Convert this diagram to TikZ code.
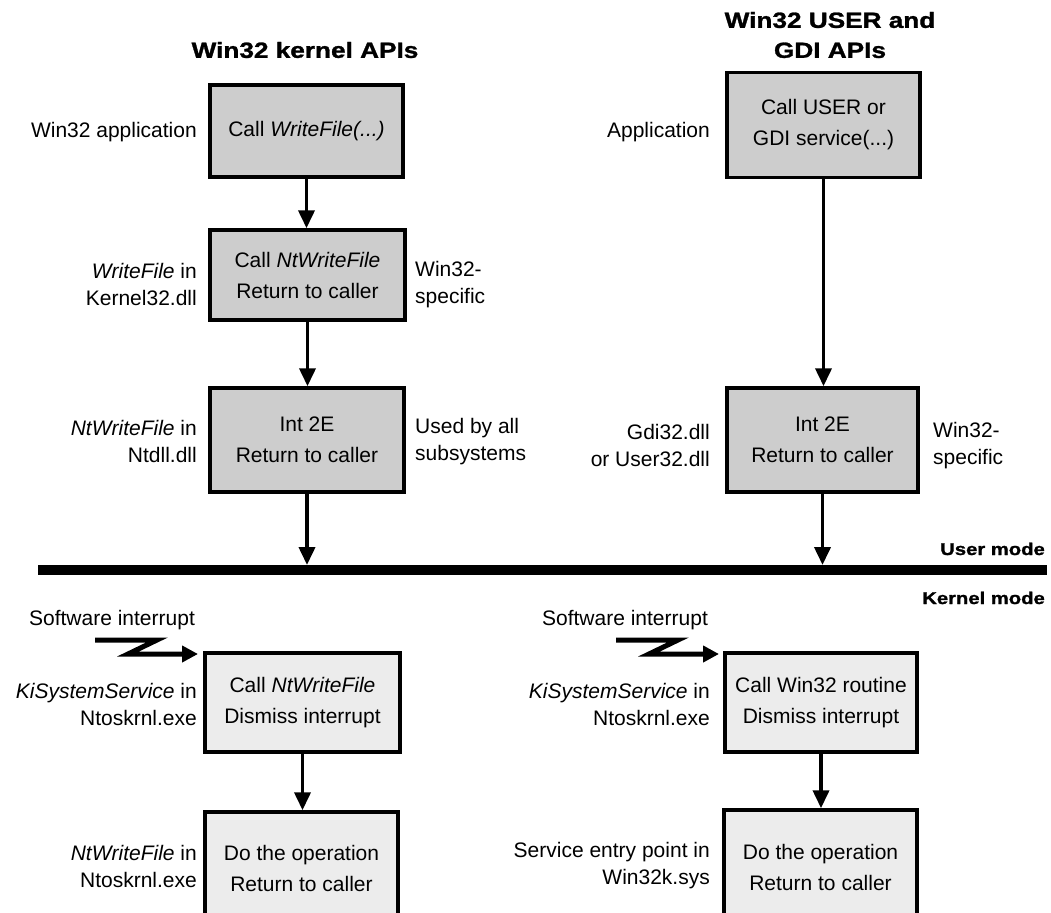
\documentclass[tikz,border=0pt]{standalone}
\usepackage{fontspec}
\setmainfont{Liberation Sans}
\newfontfamily\heavyfont{Liberation Sans}[FakeBold=1.2]
\usetikzlibrary{arrows.meta}
\definecolor{ufill}{RGB}{205,205,205}
\definecolor{kfill}{RGB}{236,236,236}
\tikzset{
  box/.style={draw=black, line width=3.5pt, align=center, inner sep=0pt,
    font=\fontsize{21}{31}\selectfont},
  ubox/.style={box, fill=ufill},
  kbox/.style={box, fill=kfill},
  lab/.style={font=\fontsize{21}{27}\selectfont, inner sep=0pt},
  labL/.style={lab, anchor=east, align=right},
  labR/.style={lab, anchor=west, align=left},
  arr/.style={line width=3.8pt, -{Triangle[width=16pt,length=18pt]}},
  zz/.style={line width=5pt, -{Triangle[width=16pt,length=16pt]}},
  ttl/.style={font=\fontsize{22}{30}\selectfont\heavyfont\bfseries, align=center, inner sep=0pt},
  mode/.style={font=\fontsize{17}{20}\selectfont\heavyfont\bfseries, anchor=base east, inner sep=0pt}
}
\begin{document}
\begin{tikzpicture}[x=1pt,y=-1pt]
\useasboundingbox (0,0) rectangle (1051,912);
\clip (0,0) rectangle (1051,912);
% titles
\node[ttl] (t1) at (305,50) {\scalebox{1.19}[1]{Win32 kernel APIs}};
\node[ttl] (t2) at (830,35) {\scalebox{1.19}[1]{Win32 USER and}\\\scalebox{1.19}[1]{GDI APIs}};
% user-mode boxes
\node[ubox, minimum width=193pt, minimum height=92pt] (b1) at (306.5,131) {Call \textit{WriteFile(...)}};
\node[ubox, minimum width=195pt, minimum height=90pt] (b2) at (307.5,275) {Call \textit{NtWriteFile}\\Return to caller};
\node[ubox, minimum width=194pt, minimum height=104pt] (b3) at (307,440) {Int 2E\\Return to caller};
\node[ubox, minimum width=193pt, minimum height=105pt] (r1) at (823.5,125) {Call USER or\\GDI service(...)};
\node[ubox, minimum width=191pt, minimum height=104pt] (r2) at (822.5,440) {Int 2E\\Return to caller};
% kernel-mode boxes
\node[kbox, minimum width=195pt, minimum height=99pt] (k1) at (302.5,702.5) {Call \textit{NtWriteFile}\\Dismiss interrupt};
\node[kbox, minimum width=193pt, minimum height=118pt, text depth=6pt] (k2) at (301.5,871) {Do the operation\\Return to caller};
\node[kbox, minimum width=192pt, minimum height=99pt] (k3) at (821,702.5) {Call Win32 routine\\Dismiss interrupt};
\node[kbox, minimum width=193pt, minimum height=120pt, text depth=6pt] (k4) at (820.5,870) {Do the operation\\Return to caller};
% side labels
\node[labL] (l1) at (197,132) {Win32 application};
\node[labL] (l2) at (197,284) {\textit{WriteFile} in\\Kernel32.dll};
\node[labR] (l2r) at (415,285) {Win32-\\specific};
\node[labL] (l3) at (197,441) {\textit{NtWriteFile} in\\Ntdll.dll};
\node[labR] (l3r) at (415,442) {Used by all\\subsystems};
\node[labL] (m1) at (710,132) {Application};
\node[labL] (m2) at (710,445) {Gdi32.dll\\or User32.dll};
\node[labR] (m2r) at (933,446) {Win32-\\specific};
\node[labL] (kl1) at (197,704) {\textit{KiSystemService} in\\Ntoskrnl.exe};
\node[labL] (kl2) at (197,866) {\textit{NtWriteFile} in\\Ntoskrnl.exe};
\node[labL] (kl3) at (710,704) {\textit{KiSystemService} in\\Ntoskrnl.exe};
\node[labL] (kl4) at (710,866) {Service entry point in\\Win32k.sys};
\node[lab] (s1) at (112,620) {Software interrupt};
\node[lab] (s2) at (625,620) {Software interrupt};
% mode line
\coordinate (ml) at (38,570);
\coordinate (mr) at (1047,570);
\draw[line width=10pt] (ml) -- (mr);
\node[mode] (um) at (1045,555) {\scalebox{1.19}[1]{User mode}};
\node[mode] (km) at (1045,604) {\scalebox{1.19}[1]{Kernel mode}};
\coordinate (e1) at ([yshift=5pt]b3.south |- ml);
\coordinate (e2) at ([yshift=5pt]r2.south |- ml);
% arrows
\draw[arr] (b1.south) -- (b1.south |- b2.north);
\draw[arr] (b2.south) -- (b2.south |- b3.north);
\draw[arr] (b3.south) -- (e1);
\draw[arr] (r1.south) -- (r1.south |- r2.north);
\draw[arr] (r2.south) -- (e2);
\draw[arr] (k1.south) -- (k1.south |- k2.north);
\draw[arr] (k3.south) -- (k3.south |- k4.north);
% software interrupt zigzags
\coordinate (za) at (95,640);
\coordinate (zb) at (157,640);
\coordinate (zc) at (128,654);
\coordinate (zd) at (198,654);
\draw[zz, line join=miter] (za) -- (zb) -- (zc) -- (zd);
\coordinate (ya) at (616,640);
\coordinate (yb) at (678,640);
\coordinate (yc) at (649,654);
\coordinate (yd) at (719,654);
\draw[zz, line join=miter] (ya) -- (yb) -- (yc) -- (yd);
\end{tikzpicture}
\end{document}
